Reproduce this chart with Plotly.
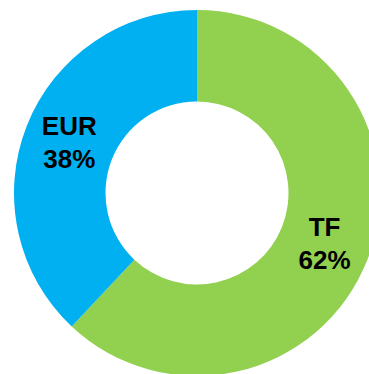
import plotly.graph_objects as go

# Currency split of the portfolio
labels = ["TF", "EUR"]
values = [62, 38]
colors = ["#92D050", "#00B0F0"]

W, H = 400, 400

fig = go.Figure(
    go.Pie(
        labels=labels,
        values=values,
        hole=0.5,
        sort=False,
        direction="clockwise",
        rotation=0,
        marker=dict(colors=colors, line=dict(width=0)),
        texttemplate="<b>%{label}</b><br><b>%{percent:.0%}</b>",
        textposition="inside",
        insidetextorientation="horizontal",
        textfont=dict(family="Arial, Liberation Sans, sans-serif", size=26, color="black"),
        hoverinfo="label+percent",
        domain=dict(x=[0.035, 0.95], y=[0.06, 0.975]),
    )
)

fig.update_layout(
    width=W,
    height=H,
    margin=dict(l=0, r=0, t=0, b=0),
    showlegend=False,
    paper_bgcolor="white",
    plot_bgcolor="white",
)

fig.write_html(
    "out.html",
    post_script="document.body.style.margin='0';document.body.style.overflow='hidden';"
    "document.documentElement.style.overflow='hidden';",
)
